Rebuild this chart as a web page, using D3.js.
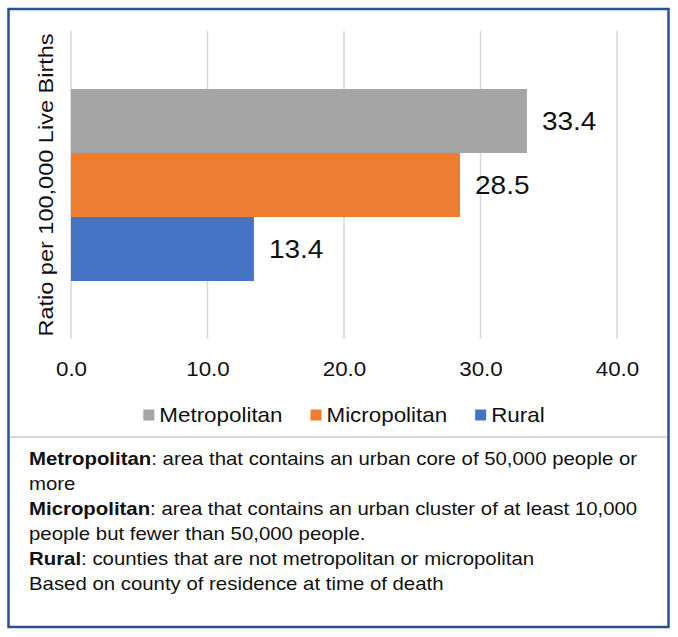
<!DOCTYPE html>
<html><head><meta charset="utf-8">
<script src="https://cdn.jsdelivr.net/npm/d3@7"></script>
<style>body{margin:0;background:#fff}svg{display:block}text{font-family:"Liberation Sans",Arial,Helvetica,sans-serif;fill:#111}</style>
</head><body>
<script>
const categories = ["Metropolitan", "Micropolitan", "Rural"];
const values = [33.4, 28.5, 13.4];
const colors = ["#a5a5a5", "#ed7d31", "#4472c4"];
const xTicks = [0, 10, 20, 30, 40];
const axisTitle = "Ratio per 100,000 Live Births";
const noteLines = [
  [["Metropolitan", true], [": area that contains an urban core of 50,000 people or", false]],
  [["more", false]],
  [["Micropolitan", true], [": area that contains an urban cluster of at least 10,000", false]],
  [["people but fewer than 50,000 people.", false]],
  [["Rural", true], [": counties that are not metropolitan or micropolitan", false]],
  [["Based on county of residence at time of death", false]]
];

const W = 678, H = 637, SX = 1.12;
const svg = d3.select("body").append("svg").attr("width", W).attr("height", H);

// frame
svg.append("rect").attr("x", 8.5).attr("y", 9).attr("width", 660).attr("height", 618)
  .attr("fill", "#fff").attr("stroke", "#2a5291").attr("stroke-width", 2.5);
svg.append("line").attr("x1", 10).attr("x2", 667).attr("y1", 437).attr("y2", 437)
  .attr("stroke", "#d9d9d9").attr("stroke-width", 2);

const plot = {left: 71, right: 617, top: 31, bottom: 339};
const x = d3.scaleLinear().domain([0, 40]).range([plot.left, plot.right]);
const y = d3.scaleBand().domain(categories).range([plot.top, plot.bottom])
  .paddingInner(0).paddingOuter(0.906);

// gridlines
svg.append("g").selectAll("line").data(xTicks).join("line")
  .attr("x1", d => x(d)).attr("x2", d => x(d))
  .attr("y1", plot.top).attr("y2", plot.bottom)
  .attr("stroke", "#d9d9d9").attr("stroke-width", 1.5);

// bars
svg.append("g").selectAll("rect").data(categories).join("rect")
  .attr("x", x(0)).attr("y", d => y(d))
  .attr("width", (d, i) => x(values[i]) - x(0))
  .attr("height", y.bandwidth())
  .attr("fill", (d, i) => colors[i]);

// data labels
svg.append("g").selectAll("text").data(categories).join("text")
  .attr("transform", (d, i) => `translate(${x(values[i]) + 15},${y(d) + y.bandwidth() / 2}) scale(${SX},1)`)
  .attr("dy", "0.36em")
  .style("font-size", "25px")
  .text((d, i) => values[i].toFixed(1));

// x axis
const ax = svg.append("g").attr("transform", `translate(0,${plot.bottom})`)
  .call(d3.axisBottom(x).tickValues(xTicks).tickFormat(d3.format(".1f")).tickSize(0).tickPadding(0));
ax.select(".domain").remove();
ax.selectAll("text").attr("y", 37).attr("dy", 0)
  .attr("transform", `scale(${SX},1)`)
  .style("font-size", "20px").style("fill", "#111").style("font-family", '"Liberation Sans",Arial,sans-serif');

// y axis title
svg.append("text")
  .attr("transform", `translate(53,${(plot.top + plot.bottom) / 2}) rotate(-90) scale(${SX},1)`)
  .attr("text-anchor", "middle")
  .style("font-size", "21px")
  .text(axisTitle);

// legend
const lg = svg.append("g");
let cx = 0;
categories.forEach((c, i) => {
  const g = lg.append("g");
  g.append("rect").attr("x", 0).attr("y", -5.5).attr("width", 11).attr("height", 11).attr("fill", colors[i]);
  const t = g.append("text").attr("transform", `translate(16,0) scale(${SX},1)`)
    .attr("dy", "0.36em").style("font-size", "20px").text(c);
  const w = 16 + t.node().getComputedTextLength() * SX;
  g.attr("transform", `translate(${cx},415)`);
  cx += w + 28;
});
const lgW = cx - 28;
lg.attr("transform", `translate(${(plot.left + plot.right) / 2 - lgW / 2},0)`);

// notes
const nt = svg.append("g");
noteLines.forEach((parts, i) => {
  const t = nt.append("text")
    .attr("transform", `translate(29,${465 + i * 25}) scale(${SX},1)`)
    .style("font-size", "18.2px");
  parts.forEach(([s, b]) => t.append("tspan").style("font-weight", b ? "bold" : "normal").text(s));
});
</script>
</body></html>
